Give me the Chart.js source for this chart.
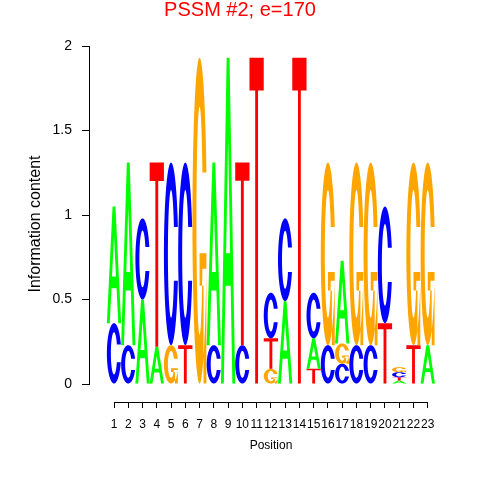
<!DOCTYPE html>
<html>
<head>
<meta charset="utf-8">
<script src="https://cdn.jsdelivr.net/npm/chart.js@4"></script>
<style>
  html, body { margin: 0; padding: 0; background: #fff; }
</style>
</head>
<body>
<canvas id="logo" width="480" height="480"></canvas>
<script>
// --- Data (stack layers, bottom to top, per position) ---
const positions = [1, 2, 3, 4, 5, 6, 7, 8, 9, 10, 11, 12, 13, 14, 15, 16, 17, 18, 19, 20, 21, 22, 23];

const layer1Letters = ['C', 'C', 'A', 'A', 'G', 'T', 'G', 'C', 'A', 'C', 'T', 'G', 'A', 'T', 'T', 'C', 'C', 'C', 'C', 'T', 'A', 'T', 'A'];
const layer1Bits = [0.36, 0.23, 0.50, 0.22, 0.23, 0.23, 1.93, 0.23, 1.93, 0.23, 1.93, 0.09, 0.49, 1.93, 0.09, 0.23, 0.12, 0.23, 0.23, 0.36, 0.02, 0.23, 0.23];

const layer2Letters = ['A', 'A', 'C', 'T', 'C', 'C', null, 'A', null, 'T', null, 'T', 'C', null, 'A', 'G', 'G', 'G', 'G', 'C', 'T', 'G', 'G'];
const layer2Bits = [0.69, 1.08, 0.48, 1.09, 1.08, 1.08, null, 1.08, null, 1.08, null, 0.18, 0.49, null, 0.18, 1.08, 0.12, 1.08, 1.08, 0.69, 0.02, 1.08, 1.08];

const layer3Letters = [null, null, null, null, null, null, null, null, null, null, null, 'C', null, null, 'C', null, 'A', null, null, null, 'C', null, null];
const layer3Bits = [null, null, null, null, null, null, null, null, null, null, null, 0.27, null, null, 0.27, null, 0.49, null, null, null, 0.03, null, null];

const layer4Letters = [null, null, null, null, null, null, null, null, null, null, null, null, null, null, null, null, null, null, null, null, 'G', null, null];
const layer4Bits = [null, null, null, null, null, null, null, null, null, null, null, null, null, null, null, null, null, null, null, null, 0.03, null, null];

const yTickValues = [0, 0.5, 1, 1.5, 2];
const titleText = 'PSSM #2; e=170';
const letterColors = { A: '#00ff00', C: '#0000ff', G: '#ffa500', T: '#ff0000' };

const FONT = '"Liberation Sans", Arial, Helvetica, sans-serif';

// --- Letter shapes (unit square, y up), seqLogo style ---
function seq(a, b, n) {
  const out = [];
  for (let i = 0; i < n; i++) out.push(a + (b - a) * i / (n - 1));
  return out;
}

// C ring: outer ellipse r=0.5, inner ellipse (narrower sideways so the strokes look heavier)
function ringC(irx, iry) {
  const a1 = seq(0.3 + Math.PI / 2, Math.PI, 100);
  const a2 = seq(Math.PI, 1.5 * Math.PI, 100);
  const outer = a1.concat(a2).map(a => [0.5 + 0.5 * Math.sin(a), 0.5 + 0.5 * Math.cos(a)]);
  const h1 = Math.max(...a1.map(a => 0.5 + 0.5 * Math.cos(a)));
  let inner1 = a1.map(a => [0.5 + irx * Math.sin(a), 0.5 + iry * Math.cos(a)]).filter(p => p[1] <= h1);
  inner1[0] = [inner1[0][0], h1];
  const inner = inner1.concat(a2.map(a => [0.5 + irx * Math.sin(a), 0.5 + iry * Math.cos(a)]));
  const o = outer.concat(outer.slice().reverse().map(p => [p[0], 1 - p[1]]));
  const i = inner.concat(inner.slice().reverse().map(p => [p[0], 1 - p[1]]));
  return { ring: o.concat(i.reverse()), r1: Math.max(...a1.map(a => 0.5 + 0.5 * Math.sin(a))) };
}

const cShape = ringC(0.22, 0.35);
const shapes = {
  A: [
    [[0, 0], [0.4, 1], [0.6, 1], [1, 0], [0.8, 0], [0.68, 0.3], [0.32, 0.3], [0.2, 0], [0, 0]],
    [[0.36, 0.4], [0.5, 0.75], [0.64, 0.4], [0.36, 0.4]]
  ],
  T: [
    [[0, 1], [1, 1], [1, 0.9], [0.6, 0.9], [0.6, 0], [0.4, 0], [0.4, 0.9], [0, 0.9]]
  ],
  C: [cShape.ring],
  G: [
    cShape.ring,
    [[cShape.r1, 0.4], [0.5, 0.4], [0.5, 0.3], [cShape.r1 - 0.2, 0.3], [cShape.r1 - 0.2, 0], [cShape.r1, 0], [cShape.r1, 0.4]]
  ]
};

function drawLetter(ctx, ch, left, bottom, w, h) {
  if (!(h > 0) || !(w > 0)) return;
  ctx.save();
  ctx.fillStyle = letterColors[ch];
  ctx.beginPath();
  shapes[ch].forEach(poly => {
    poly.forEach((p, k) => {
      const px = left + p[0] * w;
      const py = bottom - p[1] * h;
      if (k === 0) ctx.moveTo(px, py); else ctx.lineTo(px, py);
    });
    ctx.closePath();
  });
  ctx.fill(ch === 'A' ? 'evenodd' : 'nonzero');
  ctx.restore();
}

function layer(letters, bits) {
  return {
    letters,
    data: positions.map((p, k) => ({ x: p, y: bits[k] })),
    backgroundColor: 'rgba(0,0,0,0)',
    borderWidth: 0,
    barPercentage: 1,
    categoryPercentage: 1
  };
}

// draws each stacked bar as a stretched letter
const letterPlugin = {
  id: 'letters',
  afterDatasetsDraw(chart) {
    const ctx = chart.ctx;
    chart.data.datasets.forEach((ds, i) => {
      const meta = chart.getDatasetMeta(i);
      meta.data.forEach((bar, j) => {
        const letter = ds.letters[j];
        if (!letter || ds.data[j].y == null) return;
        const { x, y, base, width } = bar.getProps(['x', 'y', 'base', 'width'], true);
        drawLetter(ctx, letter, x - width / 2, Math.max(y, base), width, Math.abs(base - y));
      });
    });
  }
};

// R-style axis lines that only span the tick range, plus centred title
const axisLinePlugin = {
  id: 'axisLines',
  afterDraw(chart) {
    const { ctx, chartArea, scales: { x, y } } = chart;
    ctx.save();
    ctx.strokeStyle = '#000';
    ctx.lineWidth = 1;
    ctx.beginPath();
    const ax = Math.round(chartArea.left) - 0.5;
    ctx.moveTo(ax, y.getPixelForValue(yTickValues[0]));
    ctx.lineTo(ax, y.getPixelForValue(yTickValues[yTickValues.length - 1]));
    const ay = Math.round(chartArea.bottom) + 0.5;
    ctx.moveTo(x.getPixelForValue(positions[0]), ay);
    ctx.lineTo(x.getPixelForValue(positions[positions.length - 1]), ay);
    ctx.stroke();

    ctx.fillStyle = '#ff0000';
    ctx.font = '20px ' + FONT;
    ctx.textAlign = 'center';
    ctx.textBaseline = 'alphabetic';
    ctx.fillText(titleText, chart.width / 2, 15.5);
    ctx.restore();
  }
};

new Chart(document.getElementById('logo'), {
  type: 'bar',
  data: {
    datasets: [
      layer(layer1Letters, layer1Bits),
      layer(layer2Letters, layer2Bits),
      layer(layer3Letters, layer3Bits),
      layer(layer4Letters, layer4Bits)
    ]
  },
  options: {
    responsive: false,
    animation: false,
    devicePixelRatio: 1,
    layout: { padding: { left: 0, right: 28, top: 46, bottom: 0 } },
    plugins: {
      legend: { display: false },
      tooltip: { enabled: false },
      title: { display: false }
    },
    scales: {
      x: {
        type: 'linear',
        stacked: true,
        offset: false,
        min: -0.683,
        max: 24.70,
        afterBuildTicks: s => { s.ticks = positions.map(v => ({ value: v })); },
        afterFit: s => { s.height = 78; },
        grid: { offset: false, drawOnChartArea: false, drawTicks: true, tickLength: 6, color: '#000' },
        border: { display: false },
        ticks: {
          autoSkip: false, maxRotation: 0, padding: 9, color: '#000',
          font: { family: FONT, size: 12 },
          callback: v => String(v)
        },
        title: {
          display: true, text: 'Position', color: '#000',
          font: { family: FONT, size: 12 },
          padding: { top: 0, bottom: 27.3 }
        }
      },
      y: {
        stacked: true,
        min: -0.1065,
        max: 2,
        afterBuildTicks: s => { s.ticks = yTickValues.map(v => ({ value: v })); },
        afterFit: s => { s.width = 90; },
        grid: { drawOnChartArea: false, drawTicks: true, tickLength: 8, color: '#000' },
        border: { display: false },
        ticks: {
          padding: 10, color: '#000',
          font: { family: FONT, size: 14 },
          callback: v => String(v)
        },
        title: {
          display: true, text: 'Information content', color: '#000',
          font: { family: FONT, size: 16 },
          padding: { top: 26.4, bottom: 0 }
        }
      }
    }
  },
  plugins: [letterPlugin, axisLinePlugin]
});
</script>
</body>
</html>
